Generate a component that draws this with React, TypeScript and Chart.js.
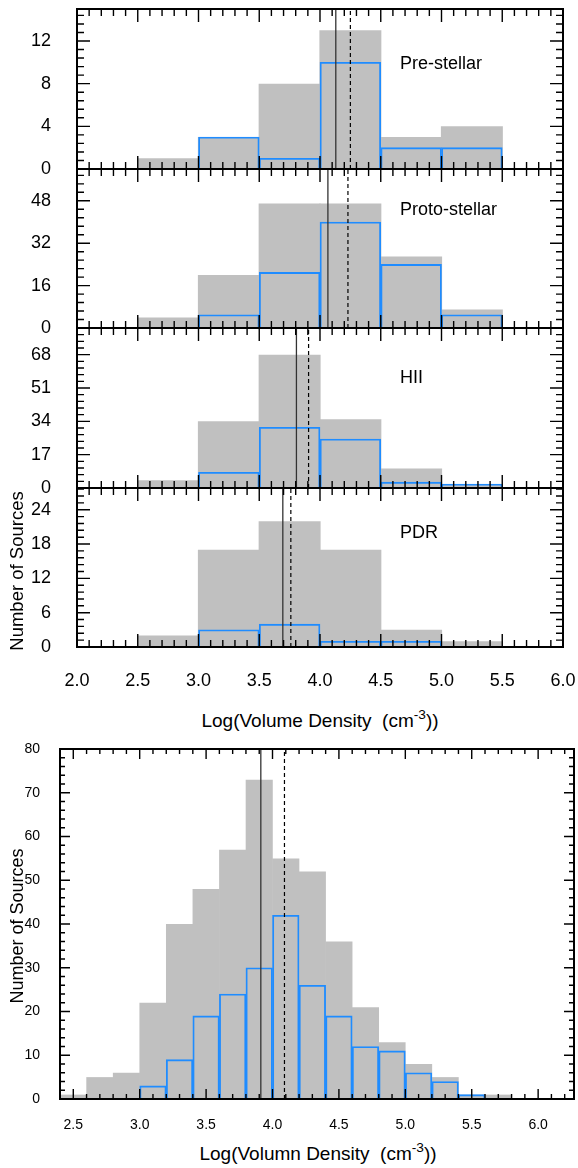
import React, { useEffect, useRef } from 'react';
import { Chart, registerables } from 'chart.js';

Chart.register(...registerables);

const FONT = "'Liberation Sans', Arial, Helvetica, sans-serif";

// ---------- Top figure (0.5 dex bins) ----------
const topBins = [2.75, 3.25, 3.75, 4.25, 4.75, 5.25];
const preStellarAll = [1, 3, 8, 13, 3, 4];
const preStellarSub = [null, 3, 1, 10, 2, 2];
const protoStellarAll = [4, 20, 47, 47, 27, 7];
const protoStellarSub = [null, 5, 21, 40, 24, 5];
const hiiAll = [4, 34, 68, 35, 10, 2];
const hiiSub = [null, 8, 31, 25, 3, 2];
const pdrAll = [2, 17, 22, 17, 3, 1];
const pdrSub = [null, 3, 4, 1, 1, null];
const panelNames = ['Pre-stellar', 'Proto-stellar', 'HII', 'PDR'];
const panelSolidLine = [4.13, 4.065, 3.806, 3.694];
const panelDashedLine = [4.25, 4.23, 3.906, 3.76];
const panelYMax = [15, 60, 81.6, 27.8];
const panelYStep = [4, 16, 17, 6];

// ---------- Bottom figure (0.2 dex bins) ----------
const allBins = [2.5, 2.7, 2.9, 3.1, 3.3, 3.5, 3.7, 3.9, 4.1, 4.3, 4.5, 4.7, 4.9, 5.1, 5.3, 5.5, 5.7];
const allCounts = [1, 5, 6, 22, 40, 48, 57, 73, 55, 52, 36, 21, 13, 8, 5, 1, 1];
const allSub = [null, null, null, 3, 9, 19, 24, 30, 42, 26, 19, 12, 11, 6, 4, 1, null];
const allSolidLine = 3.912;
const allDashedLine = 4.09;

const GRAY = '#c0c0c0';
const BLUE = '#1f8cff';

const frameTicks = {
  id: 'frameTicks',
  afterDatasetsDraw(chart: any, _args: any, o: any) {
    const { ctx, chartArea: a } = chart;
    const x = chart.scales.x;
    const y = chart.scales.y;
    ctx.save();
    ctx.strokeStyle = '#000';
    ctx.lineWidth = o.tickWidth;
    ctx.beginPath();
    const isMajor = (v: number, m: number) => Math.abs(v / m - Math.round(v / m)) < 1e-6;
    for (let k = Math.ceil(x.min / o.xMinor - 1e-6); k * o.xMinor <= x.max + 1e-6; k++) {
      const v = k * o.xMinor;
      const len = isMajor(v, o.xMajor) ? o.majorLen : o.minorLen;
      const px = x.getPixelForValue(v);
      ctx.moveTo(px, a.bottom);
      ctx.lineTo(px, a.bottom - len);
      ctx.moveTo(px, a.top);
      ctx.lineTo(px, a.top + len);
    }
    for (let k = Math.ceil(y.min / o.yMinor - 1e-6); k * o.yMinor <= y.max + 1e-6; k++) {
      const v = k * o.yMinor;
      const len = isMajor(v, o.yMajor) ? o.majorLen : o.minorLen;
      const py = y.getPixelForValue(v);
      ctx.moveTo(a.left, py);
      ctx.lineTo(a.left + len, py);
      ctx.moveTo(a.right, py);
      ctx.lineTo(a.right - len, py);
    }
    ctx.stroke();
    ctx.lineWidth = o.frameWidth;
    ctx.strokeRect(a.left, a.top, a.right - a.left, a.bottom - a.top);
    ctx.restore();
  },
};

type PanelCfg = {
  bins: number[];
  all: (number | null)[];
  sub: (number | null)[];
  solid: number;
  dashed: number;
  xMin: number;
  xMax: number;
  xMinor: number;
  yMax: number;
  yStep: number;
  showX: boolean;
  fontSize: number;
  yPad: number;
  xPad: number;
  yWidth: number;
  xHeight: number;
  padT: number;
  padB: number;
  padR: number;
  majorLen: number;
  minorLen: number;
};

const zeroPad = (s: any) => {
  s.paddingTop = 0;
  s.paddingBottom = 0;
  s.paddingLeft = 0;
  s.paddingRight = 0;
};

function buildConfig(c: PanelCfg): any {
  const toPts = (vals: (number | null)[]) =>
    c.bins.map((b, i) => ({ x: b, y: vals[i] })).filter((d) => d.y !== null);
  const font = { family: FONT, size: c.fontSize };
  return {
    type: 'bar',
    data: {
      datasets: [
        {
          type: 'line',
          data: [{ x: c.solid, y: 0 }, { x: c.solid, y: c.yMax }],
          borderColor: '#333',
          borderWidth: 1.3,
          pointRadius: 0,
          order: 0,
        },
        {
          type: 'line',
          data: [{ x: c.dashed, y: 0 }, { x: c.dashed, y: c.yMax }],
          borderColor: '#000',
          borderWidth: 1.2,
          borderDash: [4, 3],
          pointRadius: 0,
          order: 0,
        },
        {
          type: 'bar',
          data: toPts(c.sub),
          backgroundColor: 'rgba(0,0,0,0)',
          borderColor: BLUE,
          borderWidth: 1.2,
          borderSkipped: 'start',
          grouped: false,
          barPercentage: 1,
          categoryPercentage: 1,
          order: 1,
        },
        {
          type: 'bar',
          data: toPts(c.all),
          backgroundColor: GRAY,
          borderWidth: 0,
          grouped: false,
          barPercentage: 1.02,
          categoryPercentage: 1,
          order: 2,
        },
      ],
    },
    options: {
      responsive: false,
      animation: false,
      devicePixelRatio: 1,
      events: [],
      layout: { padding: { left: 0, right: c.padR, top: c.padT, bottom: c.padB } },
      plugins: {
        legend: { display: false },
        tooltip: { enabled: false },
        frameTicks: {
          xMajor: 0.5,
          xMinor: c.xMinor,
          yMajor: c.yStep,
          yMinor: c.yStep / 5,
          majorLen: c.majorLen,
          minorLen: c.minorLen,
          tickWidth: 1.4,
          frameWidth: 2,
        },
      },
      scales: {
        x: {
          type: 'linear',
          offset: false,
          min: c.xMin,
          max: c.xMax,
          display: c.showX,
          grid: { display: false, offset: false },
          border: { display: false },
          ticks: {
            stepSize: 0.5,
            includeBounds: false,
            autoSkip: false,
            maxRotation: 0,
            padding: c.xPad,
            color: '#000',
            font,
            callback: (v: any) => Number(v).toFixed(1),
          },
          afterFit: (s: any) => {
            s.height = c.xHeight;
            zeroPad(s);
          },
        },
        y: {
          type: 'linear',
          min: 0,
          max: c.yMax,
          grid: { display: false },
          border: { display: false },
          ticks: {
            stepSize: c.yStep,
            includeBounds: false,
            padding: c.yPad,
            color: '#000',
            font,
            callback: (v: any) => String(v),
          },
          afterFit: (s: any) => {
            s.width = c.yWidth;
            zeroPad(s);
          },
        },
      },
    },
    plugins: [frameTicks],
  };
}

function ChartCanvas({ cfg, top, height }: { cfg: PanelCfg; top: number; height: number }) {
  const ref = useRef<HTMLCanvasElement | null>(null);
  useEffect(() => {
    if (!ref.current) return;
    const chart = new Chart(ref.current, buildConfig(cfg));
    return () => chart.destroy();
  }, []);
  return (
    <canvas
      ref={ref}
      width={578}
      height={height}
      style={{ position: 'absolute', left: 0, top, width: 578, height }}
    />
  );
}

const panelAll = [preStellarAll, protoStellarAll, hiiAll, pdrAll];
const panelSub = [preStellarSub, protoStellarSub, hiiSub, pdrSub];
const panelTops = [9, 169, 328, 488];
const panelBottoms = [169, 328, 488, 647];
const panelLabelY = [63, 209, 377, 532];

export default function App() {
  const topPanels = panelNames.map((name, i) => {
    const isLast = i === 3;
    const padT = 12;
    const xHeight = isLast ? 45 : 0;
    const padB = isLast ? 5 : 12;
    const canvasTop = panelTops[i] - padT;
    const height = panelBottoms[i] - canvasTop + xHeight + padB;
    const cfg: PanelCfg = {
      bins: topBins,
      all: panelAll[i],
      sub: panelSub[i],
      solid: panelSolidLine[i],
      dashed: panelDashedLine[i],
      xMin: 2,
      xMax: 6,
      xMinor: 0.1,
      yMax: panelYMax[i],
      yStep: panelYStep[i],
      showX: isLast,
      fontSize: 18,
      yPad: 18,
      xPad: 15,
      yWidth: 77,
      xHeight,
      padT,
      padB,
      padR: 15,
      majorLen: 13,
      minorLen: 7,
    };
    return <ChartCanvas key={name} cfg={cfg} top={canvasTop} height={height} />;
  });

  const bottomCfg: PanelCfg = {
    bins: allBins,
    all: allCounts,
    sub: allSub,
    solid: allSolidLine,
    dashed: allDashedLine,
    xMin: 2.4,
    xMax: 6.27,
    xMinor: 0.1,
    yMax: 80,
    yStep: 10,
    showX: true,
    fontSize: 14,
    yPad: 12,
    xPad: 10,
    yWidth: 60,
    xHeight: 30,
    padT: 12,
    padB: 4,
    padR: 4,
    majorLen: 10,
    minorLen: 5,
  };
  const bottomTop = 749 - 12;
  const bottomHeight = 1099 - bottomTop + 30 + 4;

  const textBase: React.CSSProperties = {
    position: 'absolute',
    fontFamily: FONT,
    color: '#000',
    whiteSpace: 'nowrap',
    lineHeight: 1,
  };
  const sup: React.CSSProperties = { fontSize: '0.72em', verticalAlign: '0.55em', lineHeight: 0 };

  return (
    <div style={{ position: 'absolute', left: 0, top: 0, width: 578, height: 1168, background: '#fff', overflow: 'hidden' }}>
      {topPanels}
      <ChartCanvas cfg={bottomCfg} top={bottomTop} height={bottomHeight} />
      {panelNames.map((name, i) => (
        <div key={name} style={{ ...textBase, fontSize: 18, left: 400, top: panelLabelY[i], transform: 'translateY(-50%)' }}>
          {name}
        </div>
      ))}
      <div style={{ ...textBase, fontSize: 18.5, left: 17, top: 571, transform: 'translate(-50%, -50%) rotate(-90deg)' }}>
        Number of Sources
      </div>
      <div style={{ ...textBase, fontSize: 19, left: 320, top: 720, transform: 'translate(-50%, -50%)' }}>
        Log(Volume Density&nbsp;&nbsp;(cm<span style={sup}>-3</span>))
      </div>
      <div style={{ ...textBase, fontSize: 18, left: 17, top: 926, transform: 'translate(-50%, -50%) rotate(-90deg)' }}>
        Number of Sources
      </div>
      <div style={{ ...textBase, fontSize: 19, left: 318, top: 1153, transform: 'translate(-50%, -50%)' }}>
        Log(Volumn Density&nbsp;&nbsp;(cm<span style={sup}>-3</span>))
      </div>
    </div>
  );
}
